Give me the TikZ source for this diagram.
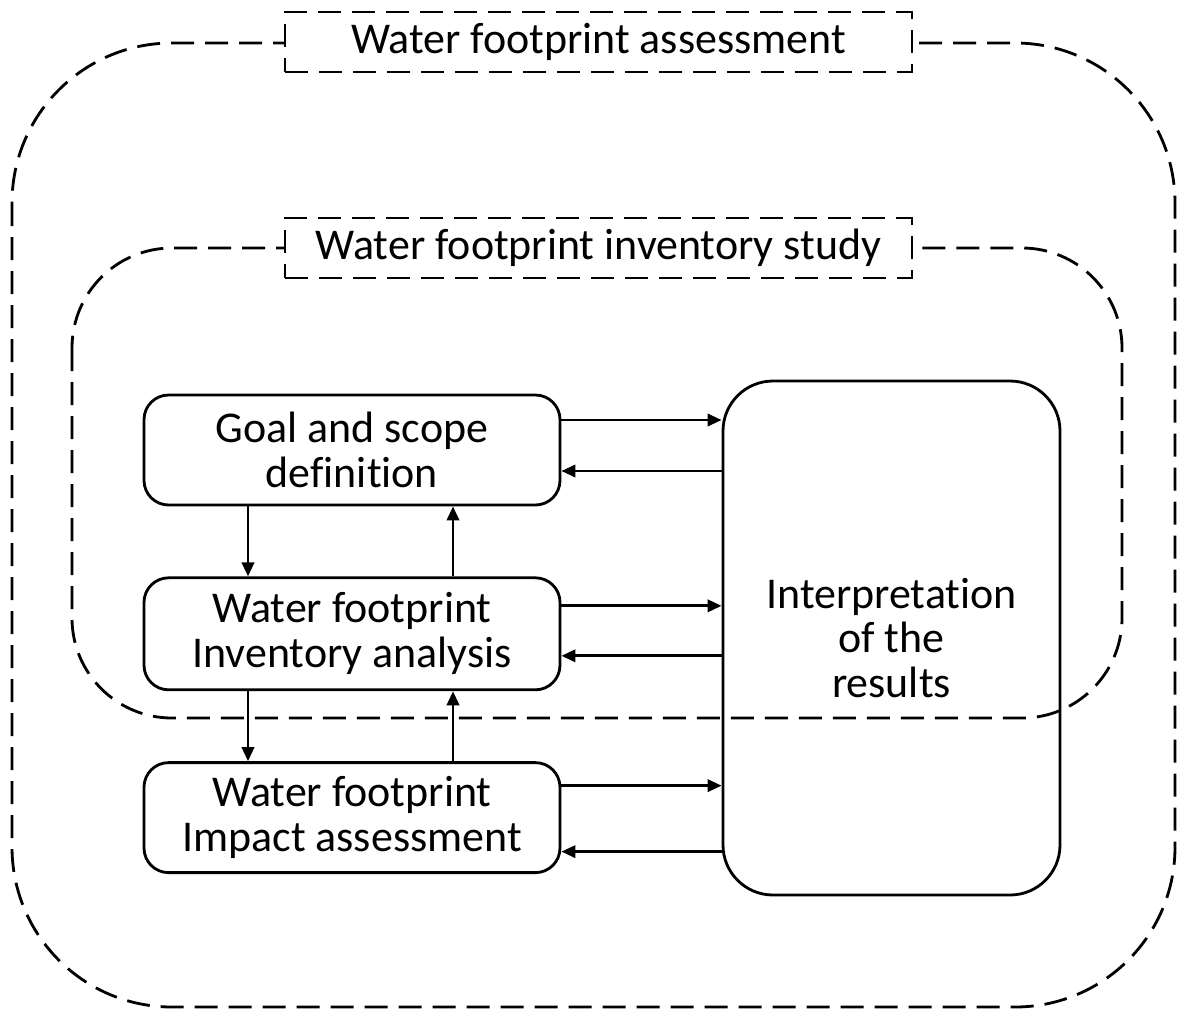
\documentclass[tikz,border=0pt]{standalone}
\usepackage{fontspec}
\setmainfont{Carlito}[Ligatures=NoCommon]
\usepackage{tikz}
\usetikzlibrary{arrows.meta,positioning,calc}
\definecolor{linecol}{RGB}{0,0,0}
\tikzset{
  bigfont/.style={font=\fontsize{25}{25.5}\selectfont},
  framebox/.style={draw=linecol,line width=1.6pt,dash pattern=on 0.46cm off 0.22cm},
  titlebox/.style={framebox,rectangle,fill=white,minimum width=12.54cm,minimum height=1.2cm,inner sep=0pt,bigfont},
  stepbox/.style={rectangle,draw=linecol,line width=1.6pt,rounded corners=14pt,align=center,
    minimum width=8.32cm,minimum height=2.2cm,inner sep=0pt,bigfont},
  interbox/.style={stepbox,rounded corners=1cm,minimum width=6.74cm,minimum height=10.28cm},
  flowarrow/.style={-{Triangle[length=8pt,width=7pt]},line width=1.6pt,linecol},
}
\begin{document}
\begin{tikzpicture}[node distance=1.4cm]
  \useasboundingbox (0,0) rectangle (23.56,-20.2);
  \draw[framebox,rounded corners=3.2cm] (0.24,-0.86) rectangle (23.5,-20.14);
  \draw[framebox,rounded corners=2cm] (1.44,-4.96) rectangle (22.44,-14.36);
  \node[titlebox] (wfa) at (11.97,-0.84) {Water footprint assessment};
  \node[titlebox] (wfi) at (11.97,-4.96) {Water footprint inventory study};
  \node[stepbox] (goal) at (7.04,-9.0) {Goal and scope\\definition};
  \node[stepbox,below=of goal,minimum height=2.24cm] (inv) {Water footprint\\Inventory analysis};
  \node[stepbox,below=of inv] (imp) {Water footprint\\Impact assessment};
  \node[interbox] (interp) at (17.83,-12.76) {Interpretation\\of the\\results};
  \draw[flowarrow] ([xshift=-2.08cm]goal.south) -- ([xshift=-2.08cm]inv.north);
  \draw[flowarrow] ([xshift=2.02cm]inv.north) -- ([xshift=2.02cm]goal.south);
  \draw[flowarrow] ([xshift=-2.08cm]inv.south) -- ([xshift=-2.08cm]imp.north);
  \draw[flowarrow] ([xshift=2.02cm]imp.north) -- ([xshift=2.02cm]inv.south);
  \draw[flowarrow] ([yshift=0.6cm]goal.east) -- ([yshift=0.6cm]goal.east -| interp.west);
  \draw[flowarrow] ([yshift=-0.42cm]goal.east -| interp.west) -- ([yshift=-0.42cm]goal.east);
  \draw[flowarrow] ([yshift=0.56cm]inv.east) -- ([yshift=0.56cm]inv.east -| interp.west);
  \draw[flowarrow] ([yshift=-0.44cm]inv.east -| interp.west) -- ([yshift=-0.44cm]inv.east);
  \draw[flowarrow] ([yshift=0.64cm]imp.east) -- ([yshift=0.64cm]imp.east -| interp.west);
  \draw[flowarrow] ([yshift=-0.68cm]imp.east -| interp.west) -- ([yshift=-0.68cm]imp.east);
\end{tikzpicture}
\end{document}
